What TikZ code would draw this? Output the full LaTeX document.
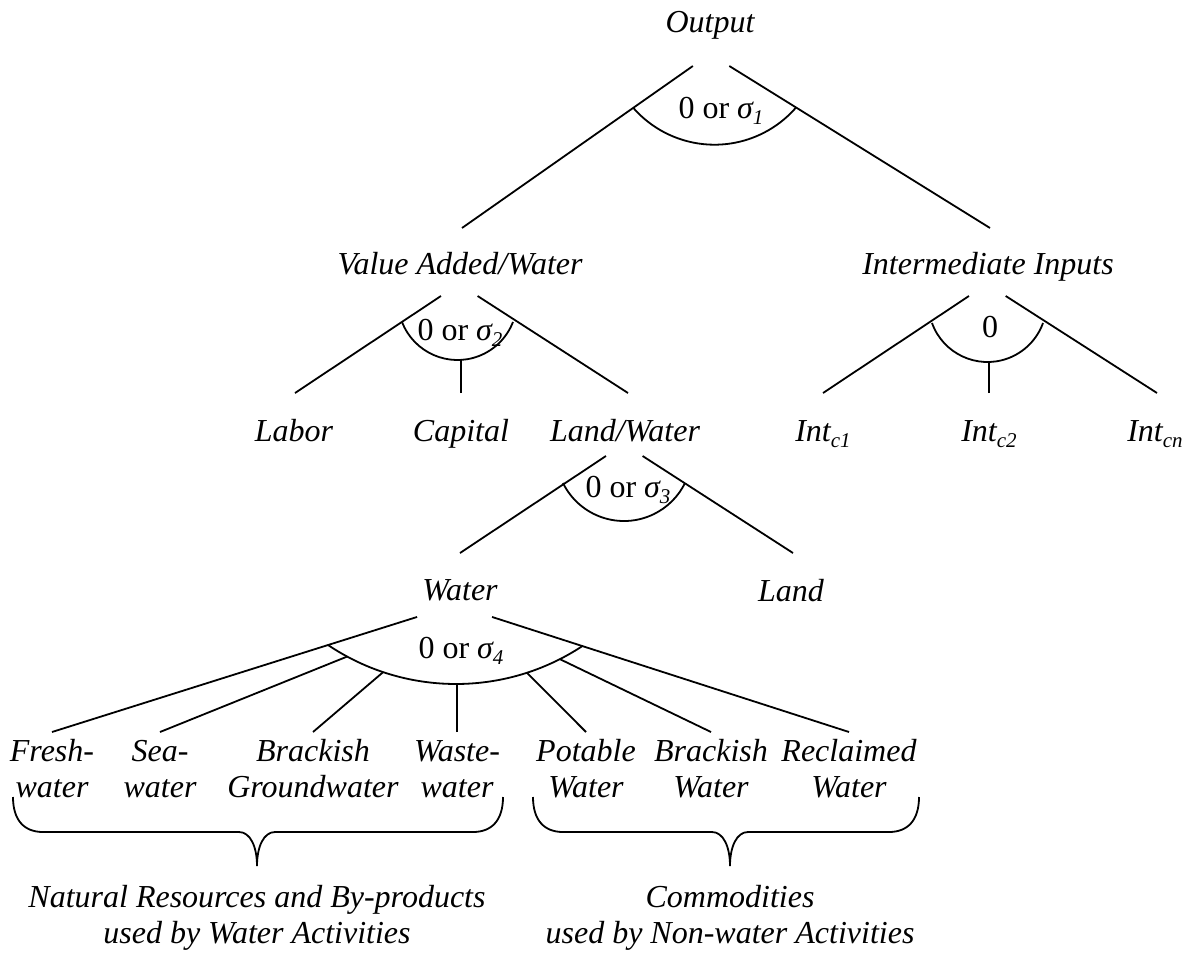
\documentclass[tikz,border=0pt]{standalone}
\usepackage{fontspec}
\setmainfont{Liberation Serif}
\usetikzlibrary{calc}
\newcommand\sbs[1]{\raisebox{-0.2em}{\fontsize{21}{21}\selectfont #1}}
\begin{document}
\begin{tikzpicture}[x=1pt,y=-1pt,line width=1.8pt,
  lbl/.style={font=\fontsize{32}{36}\selectfont\itshape,inner sep=0pt,anchor=base},
  elas/.style={font=\fontsize{32}{36}\selectfont,inner sep=0pt,anchor=base},
  leaf/.style={font=\fontsize{32}{36}\selectfont\itshape,inner sep=0pt,anchor=north,align=center}]
\useasboundingbox (0,0) rectangle (1192,954);

% labels
\node[lbl] (out) at (710,32) {Output};
\node[elas] (e1) at (721,118) {0 or \textit{σ\sbs{1}}};
\node[lbl] (va) at (460,274) {Value Added/Water};
\node[lbl] (ii) at (988,274) {Intermediate Inputs};
\node[elas] (e2) at (460,340) {0 or \textit{σ\sbs{2}}};
\node[elas] (e0) at (990,337) {0};
\node[lbl] (lab) at (294,441) {Labor};
\node[lbl] (cap) at (461,441) {Capital};
\node[lbl] (lw) at (625,441) {Land/Water};
\node[lbl] (i1) at (823,441) {Int\sbs{c1}};
\node[lbl] (i2) at (989,441) {Int\sbs{c2}};
\node[lbl] (in) at (1155,441) {Int\sbs{cn}};
\node[elas] (e3) at (628,497) {0 or \textit{σ\sbs{3}}};
\node[lbl] (wat) at (460,600) {Water};
\node[lbl] (land) at (791,601) {Land};
\node[elas] (e4) at (461,658) {0 or \textit{σ\sbs{4}}};

\node[leaf] (fw) at (52,732) {\rule{0pt}{29pt}Fresh-\\water};
\node[leaf] (sw) at (160,732) {\rule{0pt}{29pt}Sea-\\water};
\node[leaf] (bg) at (313,732) {\rule{0pt}{29pt}Brackish\\Groundwater};
\node[leaf] (ww) at (457,732) {\rule{0pt}{29pt}Waste-\\water};
\node[leaf] (pw) at (586,732) {\rule{0pt}{29pt}Potable\\Water};
\node[leaf] (bw) at (711,732) {\rule{0pt}{29pt}Brackish\\Water};
\node[leaf] (rw) at (849,732) {\rule{0pt}{29pt}Reclaimed\\Water};

\node[leaf] (nr) at (257,878) {\rule{0pt}{29pt}Natural Resources and By-products\\used by Water Activities};
\node[leaf] (cm) at (730,878) {\rule{0pt}{29pt}Commodities\\used by Non-water Activities};

% apex points and child tops
\coordinate (aO) at (710,54);
\coordinate (aVA) at (459,284);
\coordinate (aII) at (987,284);
\coordinate (aLW) at (624,444);
\coordinate (aW) at (455,605);
\coordinate (va-t) at (462,228);
\coordinate (ii-t) at (990,228);
\coordinate (lab-t) at (295,393);
\coordinate (cap-t) at (461,393);
\coordinate (lw-t) at (628,393);
\coordinate (i1-t) at (823,393);
\coordinate (i2-t) at (989,393);
\coordinate (in-t) at (1157,393);
\coordinate (wat-t) at (460,553);
\coordinate (land-t) at (793,553);

% arc centres
\coordinate (cO) at (714.5,36.7);
\coordinate (cVA) at (457.5,300.5);
\coordinate (cII) at (987.5,303);
\coordinate (cLW) at (624,453);
\coordinate (cW) at (456,454.4);

% Output
\draw ($(aO)!0.069!(va-t)$) -- (va-t);
\draw ($(aO)!0.069!(ii-t)$) -- (ii-t);
\draw ($(cO)+(138.8:108)$) arc[start angle=138.8,end angle=41.2,radius=108];

% Value added
\draw ($(aVA)!0.11!(lab-t)$) -- (lab-t);
\draw ($(aVA)!0.11!(lw-t)$) -- (lw-t);
\draw ($(cVA)+(158.8:59.5)$) arc[start angle=158.8,end angle=21.2,radius=59.5];
\coordinate (bVA) at ($(cVA)+(90:59.5)$);
\draw (cap-t) -- (cap-t |- bVA);

% Intermediate inputs
\draw ($(aII)!0.11!(i1-t)$) -- (i1-t);
\draw ($(aII)!0.11!(in-t)$) -- (in-t);
\draw ($(cII)+(160.2:59)$) arc[start angle=160.2,end angle=19.8,radius=59];
\coordinate (bII) at ($(cII)+(90:59)$);
\draw (i2-t) -- (i2-t |- bII);

% Land/Water
\draw ($(aLW)!0.11!(wat-t)$) -- (wat-t);
\draw ($(aLW)!0.11!(land-t)$) -- (land-t);
\draw ($(cLW)+(153.8:68)$) arc[start angle=153.8,end angle=26.2,radius=68];

% Water
\draw ($(aW)!0.094!(fw.north)$) -- (fw.north);
\draw ($(aW)!0.094!(rw.north)$) -- (rw.north);
\draw ($(cW)+(123.9:229.6)$) arc[start angle=123.9,end angle=56.6,radius=229.6];
\draw ($(cW)+(118.3:229.6)$) -- (sw.north);
\draw ($(cW)+(108.5:229.6)$) -- (bg.north);
\coordinate (bW) at ($(cW)+(90:229.6)$);
\draw (ww.north) -- (ww.north |- bW);
\draw ($(cW)+(72:229.6)$) -- (pw.north);
\draw ($(cW)+(63.1:229.6)$) -- (bw.north);

% braces
\draw (13,797) .. controls (13,820) and (24,832) .. (43,832) -- (239,832)
  .. controls (250,832) and (257,846) .. (257,866)
  .. controls (257,846) and (264,832) .. (275,832) -- (473,832)
  .. controls (492,832) and (503,820) .. (503,797);
\draw (533,797) .. controls (533,820) and (544,832) .. (563,832) -- (712,832)
  .. controls (723,832) and (730,846) .. (730,866)
  .. controls (730,846) and (737,832) .. (748,832) -- (889,832)
  .. controls (908,832) and (919,820) .. (919,797);
\end{tikzpicture}
\end{document}
